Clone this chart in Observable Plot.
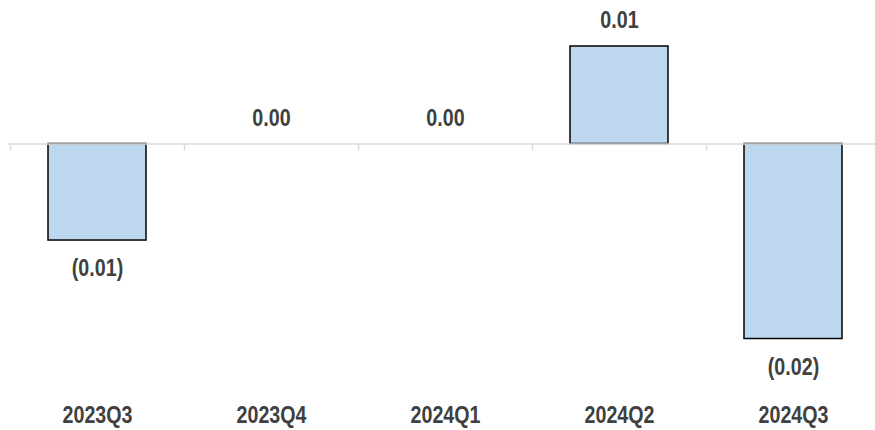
<!DOCTYPE html>
<html>
<head>
<meta charset="utf-8">
<script src="https://cdn.jsdelivr.net/npm/d3@7"></script>
<script src="https://cdn.jsdelivr.net/npm/@observablehq/plot@0.6"></script>
<style>
  html, body { margin: 0; padding: 0; background: #fff; }
  #chart svg { display: block; }
</style>
</head>
<body>
<div id="chart"></div>
<script>
const categories = ["2023Q3", "2023Q4", "2024Q1", "2024Q2", "2024Q3"];
const values = [-0.0099, 0.0, 0.0, 0.0100, -0.0200];

const data = categories.map((c, i) => ({ cat: c, value: values[i] }));
const fmt = v => {
  const s = Math.abs(v).toFixed(2);
  return v < -0.005 ? `(${s})` : s;
};

const pxPerUnit = 9750;
const zeroY = 143.5;
const textColor = "#404040";
const font = "'Liberation Sans', Arial, sans-serif";
const fs = 24;
const condense = 0.82;

const chart = Plot.plot({
  width: 875,
  height: 430,
  marginLeft: 8,
  marginRight: 0,
  marginTop: 0,
  marginBottom: 0,
  style: { fontFamily: font, background: "#fff" },
  x: { type: "band", domain: categories, range: [10, 880], paddingInner: 0.438, paddingOuter: 0.219, axis: null },
  y: { domain: [-0.025, 0.015], range: [zeroY + 0.025 * pxPerUnit, zeroY - 0.015 * pxPerUnit], axis: null },
  marks: [
    Plot.barY(data.filter(d => d.value !== 0), {
      x: "cat", y: "value", fill: "#BDD7EE", stroke: "#000", strokeWidth: 1.5
    }),
    Plot.ruleY([0], { stroke: "#d9d9d9", strokeWidth: 1.5 }),
    Plot.ruleX(categories, { x: d => d, y1: 0, y2: -0.0007, dx: -87, stroke: "#d9d9d9", strokeWidth: 1.5 }),
    Plot.text(data.filter(d => d.value >= 0), {
      x: "cat", y: "value", text: d => fmt(d.value),
      dy: -26, fill: textColor, fontWeight: "bold", fontSize: fs, lineAnchor: "middle"
    }),
    Plot.text(data.filter(d => d.value < 0), {
      x: "cat", y: "value", text: d => fmt(d.value),
      dy: 28, fill: textColor, fontWeight: "bold", fontSize: fs, lineAnchor: "middle"
    }),
    Plot.text(categories, {
      x: d => d, text: d => d, frameAnchor: "bottom", dy: -15,
      fill: textColor, fontWeight: "bold", fontSize: fs, lineAnchor: "middle"
    })
  ]
});
// emulate a condensed bold face (Arial Narrow-like) by squeezing glyphs horizontally
chart.querySelectorAll("text").forEach(t => {
  const tr = t.getAttribute("transform") || "";
  t.setAttribute("transform", `${tr} scale(${condense},1)`);
  const x = t.getAttribute("x");
  if (x) t.setAttribute("x", (+x) / condense);
});
document.getElementById("chart").appendChild(chart);
</script>
</body>
</html>
